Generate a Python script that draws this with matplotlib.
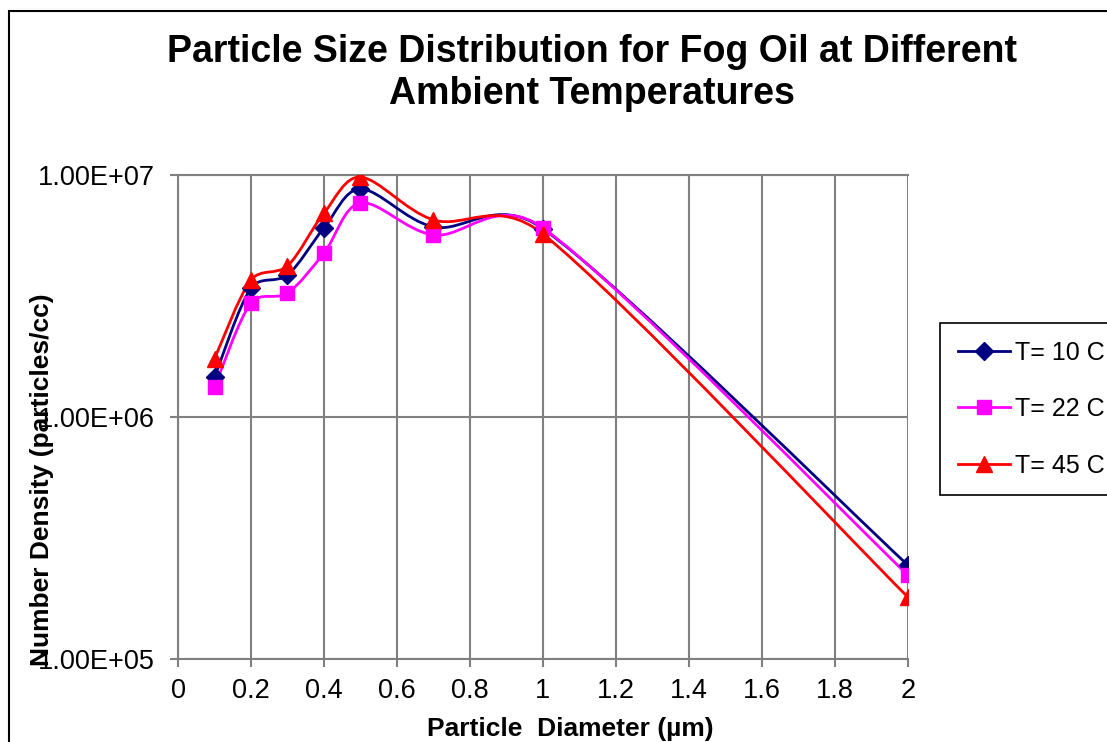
import matplotlib
matplotlib.use('Agg')
import matplotlib.pyplot as plt
from matplotlib.path import Path
from matplotlib.patches import PathPatch, Rectangle
from matplotlib.lines import Line2D
import numpy as np

plt.rcParams['font.family'] = ['Liberation Sans', 'DejaVu Sans']

# particle diameter (um) and number density (particles/cc)
diameter = [0.1, 0.2, 0.3, 0.4, 0.5, 0.7, 1.0, 2.0]
t10 = [1.46e6, 3.41e6, 3.86e6, 6.04e6, 8.75e6, 6.10e6, 6.00e6, 2.44e5]
t22 = [1.33e6, 2.96e6, 3.25e6, 4.76e6, 7.66e6, 5.65e6, 6.04e6, 2.22e5]
t45 = [1.74e6, 3.68e6, 4.21e6, 6.96e6, 9.80e6, 6.52e6, 5.70e6, 1.80e5]
labels = ['T= 10 C', 'T= 22 C', 'T= 45 C']

colors = ['#000080', '#FF00FF', '#FF0000']
markers = ['D', 's', '^']
msizes = [9, 10, 11]


def smooth_path(ax, x, y):
    # Excel-like smoothed line: cubic Bezier through the points, built in
    # display space; tangents shortened next to a much longer segment
    pts = ax.transData.transform(np.column_stack([x, y]))
    n = len(pts)
    f = 1 / 6
    verts = [pts[0]]
    codes = [Path.MOVETO]
    for i in range(n - 1):
        p0 = pts[max(i - 1, 0)]
        p1 = pts[i]
        p2 = pts[i + 1]
        p3 = pts[min(i + 2, n - 1)]
        d01 = np.hypot(*(p1 - p0))
        d12 = np.hypot(*(p2 - p1))
        d23 = np.hypot(*(p3 - p2))
        k1 = min(1.0, np.sqrt(2 * d12 / (d01 + d12))) if d01 > 0 else 1.0
        k2 = min(1.0, np.sqrt(2 * d12 / (d23 + d12))) if d23 > 0 else 1.0
        c1 = p1 + (p2 - p0) * f * k1
        c2 = p2 - (p3 - p1) * f * k2
        verts += [c1, c2, p2]
        codes += [Path.CURVE4] * 3
    verts = ax.transData.inverted().transform(np.array(verts))
    return Path(verts, codes)


fig = plt.figure(figsize=(11.07, 7.42), dpi=100)
ax = fig.add_axes([0.1608, 0.1119, 0.6594, 0.6523])

ax.set_yscale('log')
ax.set_xlim(0, 2)
ax.set_ylim(1e5, 1e7)

handles = []
for ys, c, m, ms, lab in zip([t10, t22, t45], colors, markers, msizes, labels):
    ax.add_patch(PathPatch(smooth_path(ax, diameter, ys), facecolor='none',
                           edgecolor=c, lw=2.0, zorder=3))
    ax.plot(diameter, ys, linestyle='none', marker=m, ms=ms, color=c,
            markeredgecolor=c, zorder=4)
    handles.append(Line2D([], [], color=c, lw=2.0, marker=m, ms=ms, label=lab))

ax.set_xticks(np.arange(0, 2.01, 0.2))
ax.set_xticklabels(['0', '0.2', '0.4', '0.6', '0.8', '1', '1.2', '1.4', '1.6', '1.8', '2'])
ax.set_yticks([1e5, 1e6, 1e7])
ax.set_yticklabels(['1.00E+05', '1.00E+06', '1.00E+07'])
ax.yaxis.set_minor_locator(matplotlib.ticker.NullLocator())
ax.tick_params(axis='both', labelsize=19.5, color='#808080', width=1.5, length=6,
               direction='out')
ax.tick_params(axis='x', pad=8)
ax.tick_params(axis='y', pad=11)
ax.grid(True, color='#808080', lw=1.5)
for s in ax.spines.values():
    s.set_color('#808080')
    s.set_linewidth(1.5)
ax.spines['right'].set_visible(False)

ax.set_xlabel('Particle  Diameter (\u00b5m)', fontsize=19, fontweight='bold')
ax.xaxis.set_label_coords(0.538, -0.12)
ax.set_ylabel('Number Density (particles/cc)', fontsize=19, fontweight='bold')
ax.yaxis.set_label_coords(-0.17, 0.37)

fig.text(0.535, 0.902, 'Particle Size Distribution for Fog Oil at Different\nAmbient Temperatures',
         ha='center', va='center', fontsize=27, fontweight='bold', linespacing=1.2)

leg = ax.legend(handles=handles, loc='upper left', bbox_to_anchor=(1.044, 0.694),
                borderaxespad=0, fontsize=18, frameon=True, fancybox=False,
                edgecolor='black', framealpha=1, labelspacing=1.3,
                handlelength=2.1, handletextpad=0.2, borderpad=0.7)
leg.get_frame().set_linewidth(1.2)

fig.patches.append(Rectangle((9 / 1107, -0.1), 1.2, 1.1 - 11 / 742,
                             transform=fig.transFigure, fill=False,
                             edgecolor='black', lw=1.5))

fig.savefig('out.png', dpi=100)
